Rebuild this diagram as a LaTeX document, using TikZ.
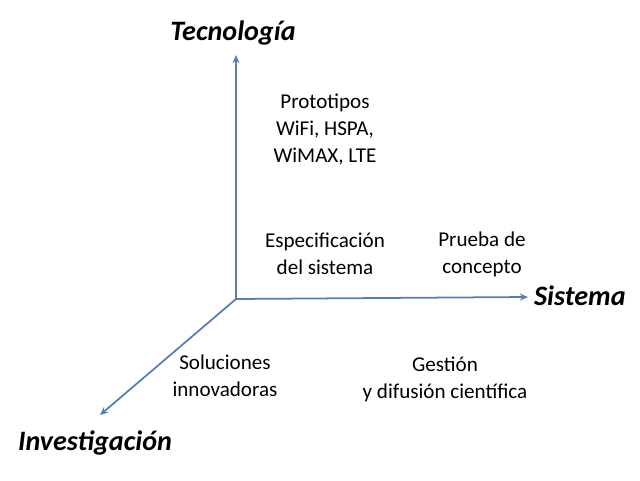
\documentclass[tikz,border=0pt]{standalone}
\usepackage{fontspec}
\setmainfont{Carlito}
\usetikzlibrary{arrows.meta}
\definecolor{axis}{RGB}{88,124,182}

\begin{document}
\begin{tikzpicture}[x=0.03cm,y=-0.03cm,
  axisline/.style={line width=1.5pt,axis,-{Stealth[length=7pt,width=6pt]}},
  axislabel/.style={font=\fontsize{24}{26}\selectfont\bfseries\itshape},
  txt/.style={align=center,font=\fontsize{18}{23}\selectfont}]

  \useasboundingbox (0,0) rectangle (640,481);

  \coordinate (origin) at (236,299);
  \coordinate (tecend) at (236,55);
  \coordinate (sisend) at (528,297);
  \coordinate (invend) at (100,415);

  \draw[axisline] (origin) -- (tecend);
  \draw[axisline] (origin) -- (sisend);
  \draw[axisline] (origin) -- (invend);

  \node[axislabel] (tec) at (233,33) {Tecnología};
  \node[axislabel,anchor=west] (sis) at (530,296) {Sistema};
  \node[axislabel] (inv) at (95,443) {Investigación};

  \node[txt] (proto) at (325,130) {Prototipos\\WiFi, HSPA,\\WiMAX, LTE};
  \node[txt] (espec) at (325,254) {Especificación\\del sistema};
  \node[txt] (prueba) at (482,254) {Prueba de\\concepto};
  \node[txt] (soluc) at (225,376) {Soluciones\\innovadoras};
  \node[txt] (gestion) at (445,379) {Gestión\\y difusión científica};

\end{tikzpicture}
\end{document}
